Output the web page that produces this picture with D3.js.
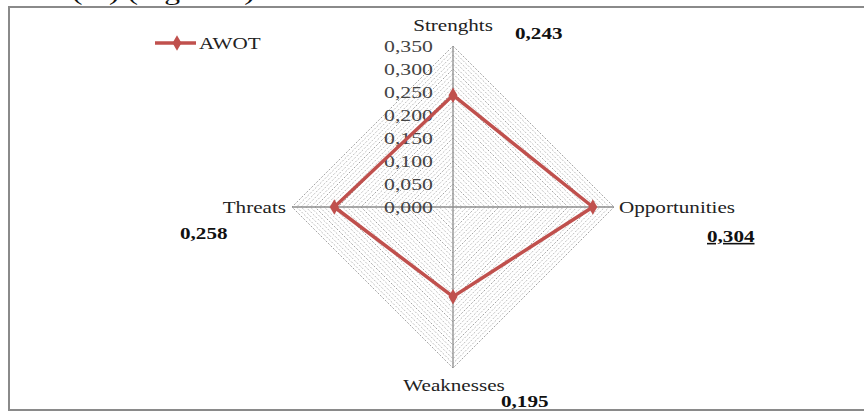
<!DOCTYPE html>
<html>
<head>
<meta charset="utf-8">
<script src="https://cdn.jsdelivr.net/npm/d3@7"></script>
<style>
html,body{margin:0;padding:0;background:#fff;}
svg{display:block;}
</style>
</head>
<body>
<svg id="chart" width="864" height="412"></svg>
<script>
const categories = ["Strenghts", "Opportunities", "Weaknesses", "Threats"];
const awotValues = [0.243, 0.304, 0.195, 0.258];
const valueLabels = ["0,243", "0,304", "0,195", "0,258"];
const tickValues = [0, 0.05, 0.10, 0.15, 0.20, 0.25, 0.30, 0.35];
const tickLabels = ["0,000", "0,050", "0,100", "0,150", "0,200", "0,250", "0,300", "0,350"];
const minorStep = 0.01;
const seriesName = "AWOT";

const svg = d3.select("#chart");
const cx = 453, cy = 207, R = 161;
const SX = 1.32; // horizontal stretch of the reference's text
const r = d3.scaleLinear().domain([0, 0.35]).range([0, R]);
const angle = d3.scalePoint().domain(categories).range([0, 270]); // degrees clockwise from top
const pt = (cat, v) => {
  const a = angle(cat) * Math.PI / 180;
  return [cx + r(v) * Math.sin(a), cy - r(v) * Math.cos(a)];
};
const serif = "'Liberation Serif','DejaVu Serif',serif";
const place = (x, y) => `translate(${x},${y}) scale(${SX},1)`;

// cut-off caption at very top
svg.append("text").attr("transform", place(72, 0)).attr("font-family", serif)
  .attr("font-size", 24).attr("fill", "#111").text("(%) (Figure 6)");

// frame
svg.append("rect").attr("x", 9).attr("y", 7).attr("width", 870).attr("height", 403)
  .attr("fill", "#fff").attr("stroke", "#8a8a8a").attr("stroke-width", 2);

// grid rings (minor every 0.01, dashed)
const minorVals = d3.range(minorStep, 0.35 + 1e-9, minorStep);
const ringLine = d3.line();
svg.append("g").selectAll("path").data(minorVals).join("path")
  .attr("d", v => ringLine(categories.map(c => pt(c, v))) + "Z")
  .attr("fill", "none")
  .attr("stroke", v => (Math.abs(Math.round(v / 0.05) * 0.05 - v) < 1e-6) ? "#9a9a9a" : "#b4b4b4")
  .attr("stroke-width", 0.9)
  .attr("stroke-dasharray", "2,1.5");

// axes
svg.append("g").selectAll("line").data(categories).join("line")
  .attr("x1", cx).attr("y1", cy)
  .attr("x2", c => pt(c, 0.35)[0]).attr("y2", c => pt(c, 0.35)[1])
  .attr("stroke", "#8c8c8c").attr("stroke-width", 1.3);

// tick labels
svg.append("g").selectAll("text").data(tickValues).join("text")
  .attr("transform", v => place(433, cy - r(v) + 6))
  .attr("text-anchor", "end").attr("font-family", serif).attr("font-size", 16.5)
  .attr("fill", "#444").text((v, i) => tickLabels[i]);

// series
const line = d3.line();
svg.append("path")
  .attr("d", line(categories.map((c, i) => pt(c, awotValues[i]))) + "Z")
  .attr("fill", "none").attr("stroke", "#C0504D").attr("stroke-width", 3.5)
  .attr("stroke-linejoin", "miter");
const diamond = d3.symbol().type(d3.symbolDiamond).size(70);
svg.append("g").selectAll("path").data(categories).join("path")
  .attr("transform", (c, i) => `translate(${pt(c, awotValues[i])})`)
  .attr("d", diamond).attr("fill", "#C0504D");

// category labels
const catPos = {
  "Strenghts": {x: 453, y: 31, anchor: "middle"},
  "Opportunities": {x: 619, y: 213, anchor: "start"},
  "Weaknesses": {x: 454, y: 391, anchor: "middle"},
  "Threats": {x: 286, y: 213, anchor: "end"}
};
svg.append("g").selectAll("text").data(categories).join("text")
  .attr("transform", c => place(catPos[c].x, catPos[c].y))
  .attr("text-anchor", c => catPos[c].anchor)
  .attr("font-family", serif).attr("font-size", 16).attr("fill", "#222").text(c => c);

// value labels
const valPos = [
  {x: 515, y: 39}, {x: 707, y: 242}, {x: 501, y: 407}, {x: 180, y: 239}
];
svg.append("g").selectAll("text").data(valueLabels).join("text")
  .attr("transform", (d, i) => place(valPos[i].x, valPos[i].y))
  .attr("font-family", serif).attr("font-size", 16).attr("font-weight", "bold")
  .attr("fill", "#111")
  .attr("text-decoration", (d, i) => i === 1 ? "underline" : null)
  .text(d => d);

// legend
const lg = svg.append("g");
lg.append("line").attr("x1", 155).attr("x2", 196).attr("y1", 43).attr("y2", 43)
  .attr("stroke", "#C0504D").attr("stroke-width", 3.5);
lg.append("path").attr("transform", "translate(177,43)").attr("d", diamond).attr("fill", "#C0504D");
lg.append("text").attr("transform", place(199, 49)).attr("font-family", serif)
  .attr("font-size", 16).attr("fill", "#222").text(seriesName);
</script>
</body>
</html>
